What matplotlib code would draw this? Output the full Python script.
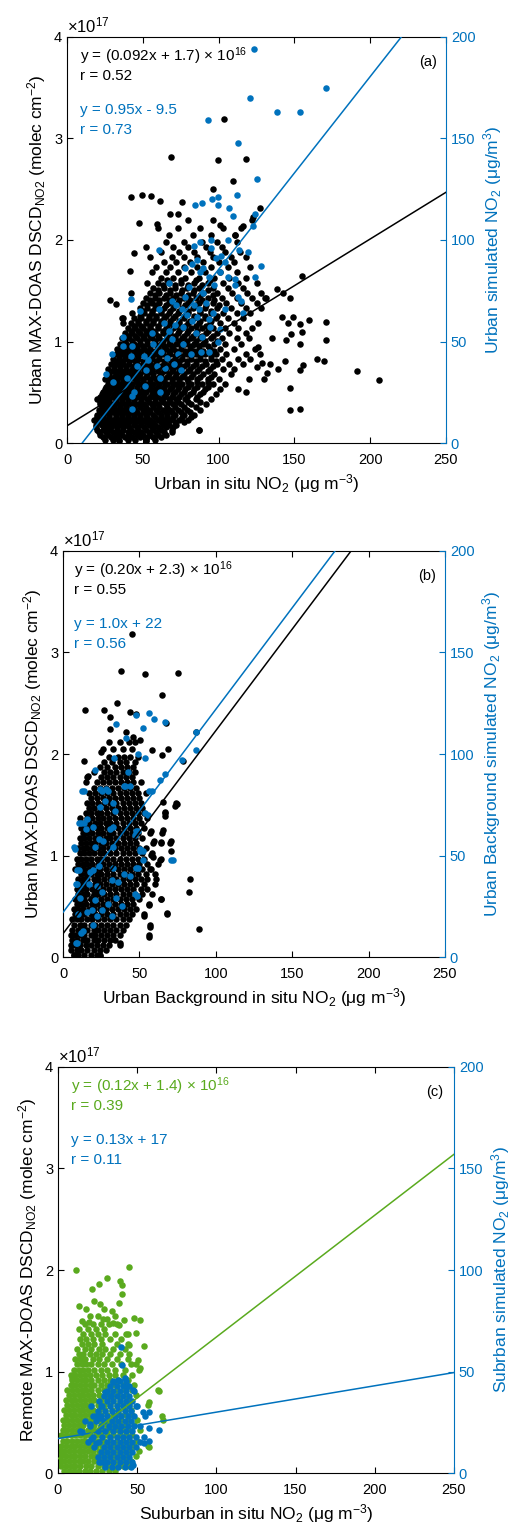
import matplotlib.pyplot as plt

plt.rcParams['font.family'] = ['Liberation Sans', 'DejaVu Sans']
plt.rcParams['mathtext.default'] = 'regular'
plt.rcParams['xtick.direction'] = 'in'
plt.rcParams['ytick.direction'] = 'in'

BLUE = '#0072BD'
GREEN = '#5AAA1E'

x_ticks = [0, 50, 100, 150, 200, 250]
left_ticks = [0, 1, 2, 3, 4]
right_ticks = [0, 50, 100, 150, 200]

# ---------------- (a) Urban ----------------
# MAX-DOAS DSCD (x1e17) read off the dense cloud, row by row: (y, [x ...])
urban_obs_rows = [
    (0.03, [25, 30, 34, 40, 45, 52, 58]),
    (0.08, [22, 27, 32, 36, 41, 46, 50, 55, 60, 65]),
    (0.13, [20, 24, 28, 33, 37, 42, 47, 52, 57, 62, 69, 87]),
    (0.18, [19, 23, 27, 31, 35, 39, 44, 49, 54, 58, 63, 67, 72]),
    (0.23, [18, 22, 26, 30, 34, 38, 42, 46, 50, 55, 60, 64, 68, 74, 80]),
    (0.28, [20, 24, 28, 32, 36, 40, 44, 48, 52, 57, 62, 66, 71, 77, 84]),
    (0.33, [21, 25, 29, 33, 37, 41, 45, 50, 54, 59, 63, 68, 73, 79, 88]),
    (0.38, [22, 26, 30, 34, 38, 42, 47, 51, 56, 60, 65, 70, 75, 82, 92]),
    (0.43, [20, 24, 28, 32, 36, 40, 44, 49, 53, 58, 62, 67, 72, 78, 85, 95]),
    (0.48, [23, 27, 31, 35, 39, 43, 47, 51, 56, 60, 65, 70, 75, 81, 88, 98]),
    (0.53, [25, 29, 33, 37, 41, 46, 50, 54, 58, 63, 68, 73, 78, 84, 91, 101]),
    (0.58, [27, 31, 35, 39, 43, 48, 52, 57, 61, 66, 71, 76, 82, 89, 96, 104]),
    (0.63, [25, 29, 33, 37, 41, 45, 50, 55, 59, 64, 69, 74, 79, 86, 93, 100]),
    (0.68, [28, 32, 36, 40, 44, 48, 53, 57, 62, 67, 72, 77, 83, 90, 97, 108]),
    (0.73, [27, 31, 35, 39, 43, 47, 51, 56, 60, 65, 70, 75, 81, 87, 94, 103, 110]),
    (0.78, [29, 33, 37, 41, 46, 50, 55, 59, 64, 69, 74, 79, 85, 92, 99, 107, 116]),
    (0.83, [30, 34, 38, 43, 47, 52, 56, 61, 66, 71, 76, 82, 88, 95, 102, 113, 121]),
    (0.88, [32, 36, 40, 45, 49, 54, 58, 63, 68, 73, 79, 85, 91, 98, 105, 118, 127]),
    (0.93, [33, 37, 42, 46, 51, 55, 60, 65, 70, 75, 81, 87, 94, 101, 110, 124]),
    (0.98, [35, 39, 44, 48, 53, 58, 62, 67, 72, 78, 84, 90, 97, 104, 115]),
    (1.03, [36, 41, 46, 51, 56, 61, 66, 71, 76, 82, 88, 95, 102, 112, 120]),
    (1.08, [38, 43, 48, 53, 58, 63, 68, 73, 79, 85, 92, 99, 107, 118]),
    (1.13, [40, 45, 50, 55, 60, 65, 70, 76, 82, 89, 96, 104, 113, 122]),
    (1.18, [37, 42, 47, 52, 57, 62, 68, 74, 80, 87, 94, 101, 110, 126]),
    (1.23, [36, 44, 49, 54, 59, 64, 70, 77, 84, 91, 98, 106, 116]),
    (1.28, [43, 51, 56, 62, 67, 73, 80, 88, 95, 103, 112, 121]),
    (1.33, [48, 53, 58, 64, 70, 76, 83, 91, 99, 108, 118, 128]),
    (1.38, [50, 56, 61, 67, 73, 80, 87, 96, 105, 115, 125]),
    (1.43, [52, 58, 64, 70, 77, 85, 93, 102, 112, 122, 131]),
    (1.48, [42, 55, 61, 68, 75, 83, 90, 99, 109, 119, 128]),
    (1.53, [57, 64, 71, 79, 87, 96, 106, 116]),
    (1.58, [53, 60, 67, 75, 84, 93, 103, 113, 125]),
    (1.63, [62, 70, 78, 87, 97, 107, 118]),
    (1.68, [56, 65, 73, 82, 91, 101, 112]),
    (1.73, [59, 68, 77, 86, 95, 106, 121]),
    (1.78, [64, 72, 81, 90, 100, 110]),
    (1.83, [55, 69, 77, 86, 96, 108, 118]),
    (1.88, [62, 74, 84, 94, 104, 114]),
    (1.93, [52, 70, 80, 92, 102]),
    (1.98, [65, 77, 89, 99, 112]),
    (2.05, [67, 83, 95, 111]),
    (2.12, [60, 73, 88, 103, 115]),
    (2.20, [80, 96, 122]),
]
# the solid core of the urban cloud, in between the rows above
urban_obs_core_rows = [
    (0.055, [24, 29, 33, 38, 43, 48, 53, 57, 62]),
    (0.105, [21, 26, 30, 35, 40, 44, 49, 54, 59, 64]),
    (0.155, [19, 25, 29, 33, 37, 41, 46, 51, 56, 60, 65, 70]),
    (0.205, [21, 25, 29, 33, 37, 41, 45, 48, 52, 57, 62, 66, 71, 77]),
    (0.255, [20, 24, 28, 32, 36, 40, 44, 48, 53, 58, 62, 66, 70, 76, 82]),
    (0.305, [22, 26, 30, 34, 38, 42, 46, 51, 55, 60, 65, 69, 75, 81]),
    (0.355, [23, 27, 31, 35, 39, 44, 48, 52, 57, 61, 66, 71, 77, 85]),
    (0.405, [22, 25, 28, 32, 36, 40, 44, 49, 54, 58, 63, 68, 73, 80, 88]),
    (0.455, [22, 26, 30, 34, 38, 42, 46, 50, 55, 59, 64, 69, 74, 79, 86]),
    (0.505, [24, 28, 32, 36, 40, 44, 48, 52, 57, 62, 66, 71, 77, 83, 90]),
    (0.555, [26, 30, 34, 38, 42, 46, 51, 55, 60, 64, 69, 74, 80, 86, 93]),
    (0.605, [28, 33, 37, 41, 46, 50, 55, 60, 64, 69, 74, 80, 86, 93]),
    (0.655, [27, 31, 35, 39, 43, 47, 52, 57, 61, 66, 71, 76, 82, 88, 95]),
    (0.705, [30, 34, 38, 42, 46, 51, 55, 60, 64, 69, 74, 80, 86, 93]),
    (0.755, [31, 35, 39, 44, 48, 53, 57, 62, 67, 72, 77, 83, 89, 96]),
    (0.805, [32, 36, 41, 45, 50, 54, 59, 64, 69, 74, 79, 85, 91, 98]),
    (0.855, [34, 38, 43, 47, 52, 56, 61, 66, 71, 76, 82, 88, 95]),
    (0.905, [35, 39, 44, 48, 53, 58, 62, 67, 72, 78, 84, 90, 97]),
    (0.955, [37, 41, 46, 50, 55, 60, 64, 69, 75, 81, 87, 93]),
    (1.005, [38, 43, 48, 53, 58, 63, 68, 74, 79, 85, 91, 99]),
    (1.055, [40, 45, 50, 55, 60, 66, 71, 77, 83, 89, 96]),
    (1.105, [42, 47, 52, 57, 63, 68, 74, 80, 86, 93]),
    (1.155, [44, 49, 55, 60, 66, 72, 78, 85, 92]),
    (1.205, [47, 52, 57, 62, 68, 74, 81, 88, 95]),
    (1.255, [48, 54, 59, 65, 71, 77, 84, 91, 99]),
    (1.305, [50, 56, 62, 68, 74, 80, 88, 95]),
    (1.355, [53, 59, 65, 71, 78, 85, 92, 100]),
    (1.405, [55, 61, 67, 74, 81, 89, 97]),
    (1.455, [58, 65, 72, 80, 88, 96]),
    (1.505, [60, 68, 76, 84, 93]),
    (1.555, [63, 71, 80, 89]),
    (1.605, [66, 75, 85, 94]),
]
urban_obs_extra = [
    (103.7, 3.19), (68.5, 2.82), (99.3, 2.79), (118.2, 2.80), (109.4, 2.58), (96.2, 2.50),
    (127.4, 2.32), (122.5, 2.23), (42, 2.42), (49.4, 2.44), (55.1, 2.43), (61.5, 2.38),
    (75.8, 2.37), (47.2, 2.17), (59.3, 2.16), (67.7, 2.26), (72.9, 2.26), (101, 2.15),
    (111, 2.05), (116, 2.14), (44, 1.87), (41.3, 1.69), (28.6, 1.41), (32.5, 1.37),
    (36.9, 1.23), (154.9, 1.65), (138.4, 1.52), (142.4, 1.48), (146.8, 1.43), (130.7, 1.43),
    (141.7, 1.24), (149, 1.24), (159.3, 1.21), (146.1, 1.18), (153.8, 1.17), (170.9, 1.19),
    (154.9, 1.09), (147.6, 1.07), (135.1, 1.03), (144.6, 1.01), (170.9, 1.01), (153.4, 0.98),
    (165.2, 0.83), (169.6, 0.81), (143.9, 0.81), (155.7, 0.77), (153.8, 0.72), (139, 0.73),
    (191.1, 0.71), (206.1, 0.62), (146.8, 0.54), (153.4, 0.34), (86.8, 0.13), (69.2, 0.11),
    (52, 0.02), (34.5, 0.02), (118.2, 0.50), (112.7, 0.53), (130, 0.63), (131.8, 0.69),
    (128.5, 0.79), (125.2, 0.75), (147, 0.33), (120, 0.63), (134, 0.78), (126, 0.95),
]
# simulated NO2 (ug/m3, right axis)
urban_sim = [
    (123.5, 194), (170.9, 175), (120.4, 170), (138.8, 163), (153.8, 163), (92.9, 159),
    (112.9, 148), (125, 130), (112, 122), (84.1, 117), (88.8, 118), (95.8, 120), (99.5, 121),
    (99.3, 117), (106.6, 116), (109.4, 112), (123.7, 113), (123, 107), (106.2, 100),
    (87.9, 99), (94.9, 100), (83.9, 97), (60.9, 95), (113.6, 95), (119.7, 94), (95.3, 96),
    (98.6, 91), (101.4, 92), (128.1, 87), (82.4, 88), (123.9, 82), (87.7, 84), (93.4, 82),
    (106.2, 82), (111.1, 81), (67, 79), (80.6, 77), (96.7, 78), (111.1, 78), (90, 74),
    (113.1, 72), (114.7, 70), (42.2, 71), (72.1, 68), (83.9, 68), (60.4, 66), (75.8, 66),
    (87.3, 66), (116, 64), (48.3, 65), (93.4, 61), (63.7, 59), (82.4, 60), (94.5, 57),
    (101, 56), (76.5, 57), (36.7, 52), (56, 54), (69.2, 51), (88.9, 52), (99.3, 50),
    (42.8, 48), (76.5, 49), (29.9, 44), (50.5, 43), (62, 45), (73.2, 44), (88.5, 45),
    (93.4, 45), (42.2, 43), (53.4, 41), (65.9, 42), (81.9, 44), (46.1, 38), (59.3, 38),
    (64.8, 37), (70.3, 39), (75.4, 36), (52.1, 36), (25.9, 34), (39.5, 32), (61.5, 32),
    (51.2, 28), (43.9, 25), (30.1, 30), (42.8, 23), (42.8, 17), (61.5, 25), (36.9, 48),
    (78, 86), (86, 90), (90, 86), (104, 89), (101, 84), (78, 72), (69, 70), (92, 69),
    (86, 62), (79, 63), (71, 58), (67, 55), (57, 49), (85, 54), (96, 64), (104, 66),
]
urban_fit_obs = (0.092, 1.7)   # x1e16
urban_fit_sim = (0.95, -9.5)

# ---------------- (b) Urban Background ----------------
ubg_obs_rows = [
    (0.02, [7, 10, 14, 18, 22, 24]),
    (0.07, [5, 9, 12, 16, 20, 24, 28]),
    (0.12, [5, 8, 11, 15, 18, 22, 26, 30, 37]),
    (0.17, [6, 9, 13, 16, 20, 23, 27, 31, 34]),
    (0.22, [5, 8, 11, 14, 18, 21, 25, 29, 33, 37, 56]),
    (0.27, [6, 10, 13, 16, 20, 23, 27, 31, 35, 39]),
    (0.32, [7, 11, 14, 18, 21, 25, 29, 33, 37, 41, 57]),
    (0.37, [6, 9, 12, 16, 19, 23, 27, 31, 35, 39, 43]),
    (0.42, [8, 11, 14, 18, 21, 25, 29, 33, 37, 41, 45, 53, 68]),
    (0.47, [7, 10, 13, 17, 20, 24, 28, 32, 36, 40, 44, 48]),
    (0.52, [9, 12, 15, 19, 22, 26, 30, 34, 38, 42, 46, 56]),
    (0.57, [8, 11, 14, 18, 21, 25, 29, 33, 37, 41, 45, 50, 64]),
    (0.62, [10, 13, 16, 20, 23, 27, 31, 35, 39, 43, 47, 52, 58]),
    (0.67, [9, 12, 15, 19, 22, 26, 30, 34, 38, 42, 46, 51, 55]),
    (0.72, [11, 14, 17, 21, 24, 28, 32, 36, 40, 44, 48, 53, 60]),
    (0.77, [10, 13, 16, 20, 23, 27, 31, 35, 39, 43, 47, 51, 55]),
    (0.82, [12, 15, 18, 22, 25, 29, 33, 37, 41, 45, 49, 54, 60]),
    (0.87, [8, 11, 14, 17, 21, 24, 28, 32, 36, 40, 44, 48, 52, 57]),
    (0.92, [10, 13, 16, 19, 23, 26, 30, 34, 38, 42, 46, 50, 55, 62]),
    (0.97, [9, 12, 15, 18, 22, 25, 29, 33, 37, 41, 45, 49, 53, 64]),
    (1.02, [11, 14, 17, 20, 24, 27, 31, 35, 39, 43, 47, 52, 58]),
    (1.07, [10, 13, 16, 19, 23, 26, 30, 34, 38, 42, 46, 50, 54]),
    (1.12, [12, 15, 18, 21, 25, 28, 32, 36, 40, 44, 48, 59, 64, 70]),
    (1.17, [11, 14, 17, 21, 24, 28, 31, 35, 39, 43, 47, 52]),
    (1.22, [13, 16, 19, 23, 26, 30, 33, 37, 41, 45, 49, 57, 65]),
    (1.27, [12, 15, 18, 22, 25, 29, 32, 36, 40, 44, 48, 53]),
    (1.32, [14, 17, 21, 24, 28, 31, 35, 39, 43, 47, 51]),
    (1.37, [11, 16, 19, 23, 26, 30, 34, 38, 42, 46, 50, 55]),
    (1.42, [15, 18, 22, 25, 29, 33, 37, 41, 45, 49, 53, 67]),
    (1.47, [17, 20, 24, 28, 32, 36, 40, 44, 48, 52]),
    (1.52, [16, 19, 23, 27, 31, 35, 39, 43, 47, 51, 74]),
    (1.57, [18, 22, 26, 30, 34, 38, 42, 46, 50]),
    (1.62, [17, 21, 25, 29, 33, 37, 41, 45, 49, 54]),
    (1.67, [20, 24, 28, 32, 36, 40, 44, 48]),
    (1.72, [15, 22, 26, 30, 34, 38, 42, 46, 51]),
    (1.77, [16, 25, 29, 33, 37, 41, 45]),
    (1.82, [20, 27, 31, 35, 39, 43, 47]),
    (1.87, [24, 29, 34, 38, 42, 46]),
    (1.92, [27, 32, 37, 41, 47]),
    (1.97, [30, 36, 40, 44, 49]),
    (2.05, [26, 33, 39, 45]),
    (2.12, [30, 37, 43, 47]),
]
ubg_obs_extra = [
    (45.4, 3.18), (38.2, 2.82), (53.9, 2.79), (75.3, 2.80), (65.1, 2.58), (14.2, 2.43),
    (26.9, 2.43), (35.4, 2.50), (31, 2.36), (43.7, 2.41), (48, 2.39), (30.6, 2.25),
    (41, 2.22), (45.8, 2.17), (50.2, 2.14), (67.2, 2.31), (69, 2.05), (58.5, 2.04),
    (64.8, 1.99), (78.6, 1.93), (87.3, 2.22), (13.5, 1.93), (16.4, 1.78), (25.1, 2.02),
    (65.5, 1.53), (73.6, 1.49), (74.6, 1.51), (66.6, 1.43), (67, 1.39), (57.8, 1.24),
    (65.5, 1.25), (70.5, 1.14), (59.4, 1.14), (64, 1.13), (71, 1.04), (57.8, 1.01),
    (58.9, 0.99), (63.7, 0.96), (57.4, 0.87), (60.7, 0.77), (83, 0.77), (82.5, 0.64),
    (64.4, 0.57), (56.3, 0.51), (53, 0.40), (68.3, 0.43), (57.2, 0.30), (56.1, 0.20),
    (89.1, 0.28), (37.5, 0.14), (24, 0.01), (7, 0.02),
]
ubg_sim = [
    (34.9, 115), (47.6, 119), (56.1, 120), (59.6, 117), (67, 116), (52.4, 113), (41.5, 108),
    (87.3, 111), (87.3, 102), (78.1, 97), (53.5, 98), (33.4, 98), (49.1, 100), (20.7, 92),
    (42.6, 91), (66.6, 90), (63.3, 87), (12.7, 82), (24, 83), (28.4, 83), (39.7, 84),
    (56.3, 82), (10.3, 66), (11.6, 66), (15.7, 68), (7, 54), (53.9, 71), (47.6, 62),
    (50.6, 53), (48, 44), (70.5, 48), (9.2, 43), (8.3, 36), (8.3, 7), (11.6, 12), (46.9, 31),
    (13.7, 82), (25.3, 82), (29.7, 82), (40.6, 84), (43.9, 84), (58, 82), (27.5, 77),
    (32.5, 76), (34, 72), (24.2, 74), (13.7, 66), (19.8, 64), (30.8, 63), (32.7, 64),
    (15, 63), (55.6, 70), (49, 62), (47, 60), (23.6, 58), (26.2, 57), (7.9, 53), (21, 54),
    (32.7, 54), (50.4, 52), (52.1, 52), (52.5, 48), (72, 48), (10.5, 43), (17.7, 42),
    (19.8, 43), (23.6, 45), (32.7, 44), (39.9, 41), (43.9, 40), (49, 44), (9.2, 36),
    (17, 36), (22.3, 35), (25.3, 32), (32, 38), (36, 37), (48.4, 30), (34.7, 29), (11.1, 29),
    (21, 28), (29.5, 26), (38.4, 25), (9.8, 21), (15.5, 22), (18.8, 23), (22, 20), (25.3, 23),
    (31.9, 20), (12.9, 13), (19.6, 16), (9, 7),
]
ubg_fit_obs = (0.20, 2.3)
ubg_fit_sim = (1.0, 22)

# ---------------- (c) Suburban / Remote ----------------
sub_obs_rows = [
    (0.02, [4, 7, 10, 13, 17, 20, 24, 28, 32, 36]),
    (0.07, [2, 5, 8, 11, 14, 18, 21, 25, 29, 33, 37, 41, 45]),
    (0.12, [1, 4, 7, 10, 13, 16, 19, 23, 26, 30, 34, 38, 42, 46]),
    (0.17, [2, 5, 8, 11, 14, 17, 21, 24, 28, 32, 36, 40, 44, 49]),
    (0.22, [1, 4, 7, 10, 13, 16, 19, 22, 26, 30, 34, 38, 42, 46, 51]),
    (0.27, [2, 5, 8, 11, 14, 17, 20, 24, 28, 32, 36, 40, 44, 48, 57]),
    (0.32, [3, 6, 9, 12, 15, 18, 22, 25, 29, 33, 37, 41, 45, 50]),
    (0.37, [2, 5, 8, 11, 14, 17, 20, 24, 27, 31, 35, 39, 43, 47]),
    (0.42, [3, 6, 9, 12, 15, 19, 22, 26, 29, 33, 37, 41, 45, 52]),
    (0.47, [4, 7, 10, 13, 16, 20, 23, 27, 31, 35, 39, 43, 48]),
    (0.52, [3, 6, 9, 12, 15, 18, 21, 25, 28, 32, 36, 40, 44, 50, 66]),
    (0.57, [5, 8, 11, 14, 17, 20, 24, 27, 31, 35, 39, 43, 47]),
    (0.62, [4, 7, 10, 13, 16, 19, 22, 26, 30, 34, 38, 42, 46]),
    (0.67, [6, 9, 12, 15, 18, 21, 25, 29, 33, 37, 41, 45, 57]),
    (0.72, [5, 8, 11, 14, 17, 20, 23, 27, 31, 35, 39, 44]),
    (0.77, [7, 10, 13, 16, 19, 22, 26, 30, 34, 38, 43, 49]),
    (0.82, [6, 9, 12, 15, 18, 21, 25, 29, 33, 37, 42, 47, 63]),
    (0.87, [8, 11, 14, 17, 20, 23, 27, 31, 36, 41, 48]),
    (0.92, [9, 12, 15, 18, 21, 25, 29, 33, 38, 44]),
    (0.97, [8, 11, 14, 17, 20, 24, 28, 32, 36, 41, 47]),
    (1.02, [10, 13, 16, 19, 23, 27, 31, 36, 42, 51]),
    (1.07, [12, 15, 18, 21, 25, 29, 34, 40, 46, 49]),
    (1.12, [11, 14, 17, 22, 26, 31, 37, 44]),
    (1.17, [13, 16, 20, 24, 28, 33, 39, 45]),
    (1.22, [12, 17, 21, 26, 30, 35, 42]),
    (1.27, [15, 19, 23, 28, 37, 44]),
    (1.32, [14, 18, 22, 27, 33, 40]),
    (1.37, [16, 21, 25, 30, 36, 43]),
    (1.42, [13, 19, 24, 29]),
    (1.47, [17, 22, 27, 32, 37]),
    (1.55, [20, 25, 36]),
    (1.62, [18, 29]),
]
sub_obs_extra = [
    (11.6, 2.0), (44.8, 2.03), (21.7, 1.81), (25.7, 1.86), (30.9, 1.92), (39.3, 1.89),
    (40.6, 1.85), (40.6, 1.76), (13, 1.65), (26.3, 1.67), (22.7, 1.69), (38.3, 1.68),
    (33.9, 1.60), (48, 1.53), (51.5, 1.51), (15.4, 1.50), (19.6, 1.49), (28.4, 1.52),
    (30.9, 1.52), (34.7, 1.48), (38.5, 1.46), (41.4, 1.51), (49, 1.38), (44.2, 1.37),
    (54.3, 1.25), (44.8, 1.26), (50.5, 1.11), (51.5, 1.03), (63.5, 0.81), (65.6, 0.56),
    (57.2, 0.70), (57.2, 0.26), (9, 0.94), (15.8, 1.11),
]
sub_sim_rows = [
    (3, [30, 34, 38, 42, 46]),
    (5.5, [27, 31, 35, 39, 43, 47]),
    (8, [25, 29, 33, 37, 41, 45]),
    (10.5, [27, 31, 35, 39, 43, 47]),
    (13, [23, 29, 33, 37, 41, 45, 49]),
    (15.5, [19, 26, 31, 35, 39, 43, 47, 52]),
    (18, [22, 28, 33, 37, 41, 45, 49, 54]),
    (20.5, [14, 25, 30, 35, 39, 43, 47]),
    (23, [20, 27, 32, 36, 40, 44, 48, 52]),
    (25.5, [17, 24, 29, 34, 38, 42, 46]),
    (28, [22, 27, 31, 36, 40, 44, 48, 55]),
    (30.5, [25, 30, 34, 38, 42, 46]),
    (33, [21, 28, 33, 37, 41, 45, 50]),
    (35.5, [26, 31, 35, 39, 43, 47]),
    (38, [29, 33, 37, 41, 45]),
    (40.5, [31, 35, 39, 43, 48]),
    (43, [33, 37, 41, 45]),
    (45.5, [35, 39, 43]),
]
sub_sim_extra = [
    (39.6, 62), (40.6, 53), (42, 47), (35, 45), (38, 46), (44, 43), (47.3, 41), (30, 40),
    (33.7, 38), (49.4, 33), (53.7, 30), (57.4, 30), (57.4, 22), (63.7, 21), (57.4, 16),
    (54, 15), (47.3, 4), (24.2, 15), (21, 17), (15.4, 20), (20, 24), (24.2, 28), (27.4, 33),
    (26.3, 27), (29.5, 5), (25.9, 5.5),
]
sub_fit_obs = (0.12, 1.4)
sub_fit_sim = (0.13, 17)

MS = 22  # marker area, pt^2


def flatten(rows, extra):
    xs = [x for y, row in rows for x in row] + [p[0] for p in extra]
    ys = [y for y, row in rows for x in row] + [p[1] for p in extra]
    return xs, ys


def panel(fig, rect, obs, sim, obs_color, fit_obs, fit_sim, txt_obs, txt_sim, tag,
          xlabel, ylabel, ylabel2, txt_x):
    ax = fig.add_axes(rect)
    ax.scatter(obs[0], obs[1], s=MS, color=obs_color, linewidths=0, zorder=2)
    ax.set_xlim(0, 250)
    ax.set_ylim(0, 4)
    ax.set_xticks(x_ticks)
    ax.set_yticks(left_ticks)
    ax.tick_params(top=True, right=False, labelsize=10.5, length=4, width=0.8)
    ax.tick_params(axis='x', pad=7)
    ax.spines['right'].set_visible(False)
    for s in ['left', 'top', 'bottom']:
        ax.spines[s].set_linewidth(0.8)
    ax.set_xlabel(xlabel, fontsize=12.5, labelpad=4)
    ax.set_ylabel(ylabel, fontsize=12.5, labelpad=4)
    ax.text(0.0, 1.005, r'$\times$10$^{17}$', transform=ax.transAxes,
            ha='left', va='bottom', fontsize=12)

    ax2 = ax.twinx()
    ax2.scatter(sim[0], sim[1], s=MS, color=BLUE, linewidths=0, zorder=2)
    xx = [0, 250]
    ax2.plot(xx, [fit_sim[0] * x + fit_sim[1] for x in xx], color=BLUE, lw=1.1, zorder=3)
    ax2.plot(xx, [(fit_obs[0] * x + fit_obs[1]) / 10 for x in xx], color=obs_color,
             lw=1.1, zorder=3, transform=ax.transData)
    ax2.set_ylim(0, 200)
    ax2.set_xlim(0, 250)
    ax2.set_yticks(right_ticks)
    ax2.tick_params(axis='y', colors=BLUE, labelsize=10.5, length=4, width=0.8)
    ax2.spines['right'].set_color(BLUE)
    ax2.spines['right'].set_linewidth(0.8)
    for s in ['left', 'top', 'bottom']:
        ax2.spines[s].set_visible(False)
    ax2.set_ylabel(ylabel2, fontsize=12.5, color=BLUE, labelpad=4)

    ax2.text(txt_x, 0.952, txt_obs[0], transform=ax2.transAxes, fontsize=11,
             color=obs_color, va='center')
    ax2.text(txt_x, 0.903, txt_obs[1], transform=ax2.transAxes, fontsize=11,
             color=obs_color, va='center')
    ax2.text(txt_x, 0.820, txt_sim[0], transform=ax2.transAxes, fontsize=11,
             color=BLUE, va='center')
    ax2.text(txt_x, 0.772, txt_sim[1], transform=ax2.transAxes, fontsize=11,
             color=BLUE, va='center')
    ax2.text(0.952, 0.938, tag, transform=ax2.transAxes, fontsize=10.5,
             ha='center', va='center')
    return ax, ax2


fig = plt.figure(figsize=(5.29, 15.33), dpi=100)

panel(fig, [0.1267, 0.7110, 0.7164, 0.2649],
      flatten(urban_obs_rows + urban_obs_core_rows, urban_obs_extra),
      ([p[0] for p in urban_sim], [p[1] for p in urban_sim]),
      'black', urban_fit_obs, urban_fit_sim,
      [r'y = (0.092x + 1.7) $\times$ 10$^{16}$', 'r = 0.52'],
      ['y = 0.95x - 9.5', 'r = 0.73'], '(a)',
      r'Urban in situ NO$_2$ (μg m$^{-3}$)',
      r'Urban MAX-DOAS DSCD$_{NO2}$ (molec cm$^{-2}$)',
      r'Urban simulated NO$_2$ (μg/m$^3$)', 0.035)

panel(fig, [0.1191, 0.3757, 0.7221, 0.2649],
      flatten(ubg_obs_rows, ubg_obs_extra),
      ([p[0] for p in ubg_sim], [p[1] for p in ubg_sim]),
      'black', ubg_fit_obs, ubg_fit_sim,
      [r'y = (0.20x + 2.3) $\times$ 10$^{16}$', 'r = 0.55'],
      ['y = 1.0x + 22', 'r = 0.56'], '(b)',
      r'Urban Background in situ NO$_2$ (μg m$^{-3}$)',
      r'Urban MAX-DOAS DSCD$_{NO2}$ (molec cm$^{-2}$)',
      r'Urban Background simulated NO$_2$ (μg/m$^3$)', 0.028)

panel(fig, [0.1096, 0.0391, 0.7486, 0.2649],
      flatten(sub_obs_rows, sub_obs_extra),
      flatten(sub_sim_rows, sub_sim_extra),
      GREEN, sub_fit_obs, sub_fit_sim,
      [r'y = (0.12x + 1.4) $\times$ 10$^{16}$', 'r = 0.39'],
      ['y = 0.13x + 17', 'r = 0.11'], '(c)',
      r'Suburban in situ NO$_2$ (μg m$^{-3}$)',
      r'Remote MAX-DOAS DSCD$_{NO2}$ (molec cm$^{-2}$)',
      r'Subrban simulated NO$_2$ (μg/m$^3$)', 0.034)

fig.savefig('out.png', dpi=100)
